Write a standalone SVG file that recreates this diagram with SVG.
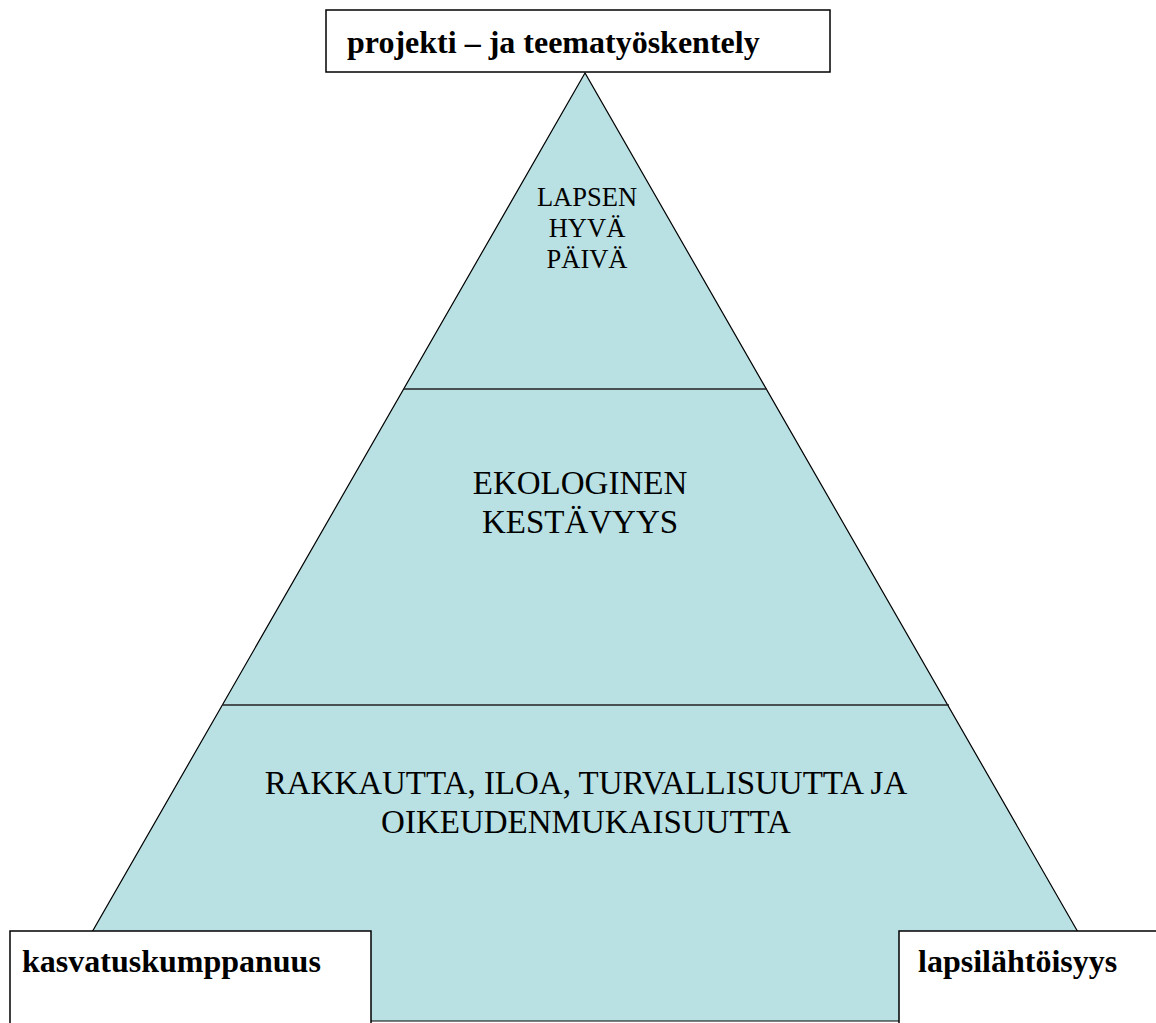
<svg xmlns="http://www.w3.org/2000/svg" width="1156" height="1023" viewBox="0 0 1156 1023">
<style>
.bx{fill:#fff;stroke:#000;stroke-width:1.5}
.lbl{font-family:"Liberation Serif",serif;font-weight:bold;font-size:32px;fill:#000}
.t{font-family:"Liberation Serif",serif;fill:#000;text-anchor:middle}
.sep{stroke:#222;stroke-width:1.5}
</style>
<rect width="1156" height="1023" fill="#fff"/>
<g id="pyramid">
<polygon points="585,73 41,1021 1129,1021" fill="#b9e0e3" stroke="#000" stroke-width="1.2"/>
</g>
<g id="connectors">
<line class="sep" x1="404" y1="389" x2="767" y2="389"/>
<line class="sep" x1="222" y1="705" x2="949" y2="705"/>
</g>
<g id="level-top">
<text class="t" font-size="26.5" x="587" y="206">LAPSEN</text>
<text class="t" font-size="26.5" x="587" y="237">HYVÄ</text>
<text class="t" font-size="26.5" x="587" y="268">PÄIVÄ</text>
</g>
<g id="level-mid">
<text class="t" font-size="33" x="580" y="494">EKOLOGINEN</text>
<text class="t" font-size="33" x="580" y="533">KESTÄVYYS</text>
</g>
<g id="level-bottom">
<text class="t" font-size="33" x="586" y="794">RAKKAUTTA, ILOA, TURVALLISUUTTA JA</text>
<text class="t" font-size="33" x="586" y="833">OIKEUDENMUKAISUUTTA</text>
</g>
<g id="box-top">
<rect class="bx" x="326" y="10" width="504" height="62"/>
<text class="lbl" x="347" y="53">projekti – ja teematyöskentely</text>
</g>
<g id="box-left">
<rect class="bx" x="10" y="931" width="361" height="100"/>
<text class="lbl" x="22" y="972">kasvatuskumppanuus</text>
</g>
<g id="box-right">
<rect class="bx" x="899" y="931" width="270" height="100"/>
<text class="lbl" x="918" y="972">lapsilähtöisyys</text>
</g>
</svg>
